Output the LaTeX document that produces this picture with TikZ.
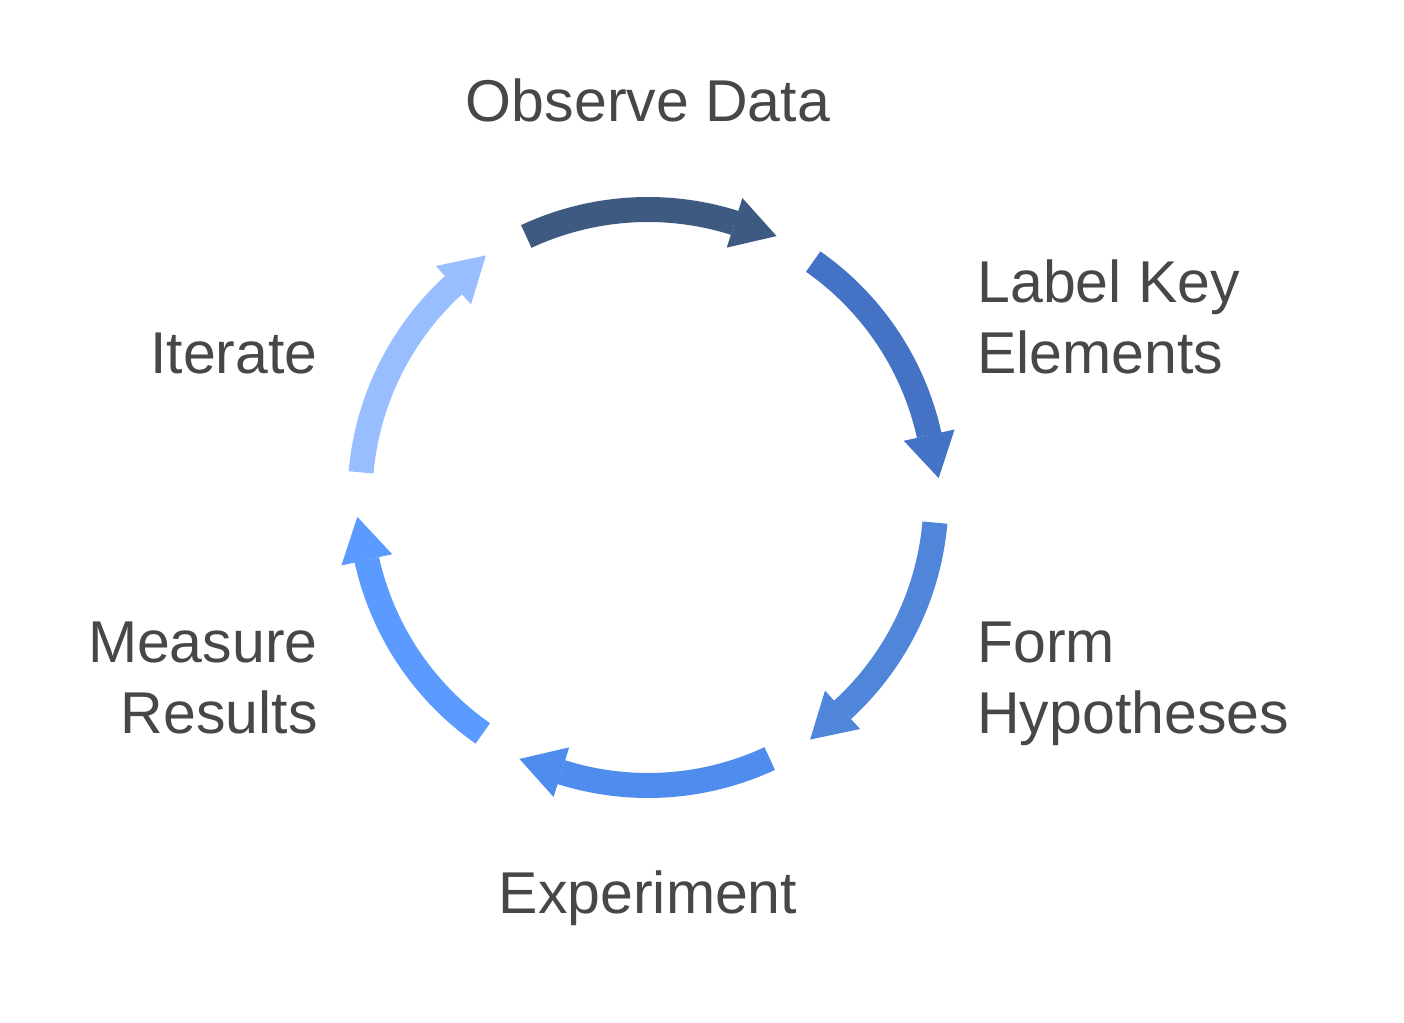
\documentclass[tikz,border=0pt]{standalone}
\usepackage{fontspec}
\setmainfont{Liberation Sans}
\usepackage{xcolor}
\usetikzlibrary{arrows.meta}

\definecolor{obsblue}{HTML}{3E5A80}
\definecolor{keyblue}{HTML}{4472C4}
\definecolor{formblue}{HTML}{5086DA}
\definecolor{expblue}{HTML}{4E8DEE}
\definecolor{measblue}{HTML}{5B9BFF}
\definecolor{iterblue}{HTML}{99BEFF}
\definecolor{textgray}{HTML}{474747}

\begin{document}
\begin{tikzpicture}[x=0.5pt, y=0.5pt]
    \tikzstyle{stagetext} = [inner sep=0pt, text=textgray, font=\fontsize{29.5pt}{35.65pt}\selectfont]
    \tikzstyle{cyclearc} = [line width=12.5pt, -{Triangle[length=22pt, width=26pt, line width=0pt]}]

    \useasboundingbox (-648,-525.5) rectangle (756,497.5);

    % start points of the six arcs
    \coordinate (hub) at (0,0);
    \coordinate (sObs) at (115:288);
    \coordinate (sKey) at (55:288);
    \coordinate (sForm) at (-5:288);
    \coordinate (sExp) at (-65:288);
    \coordinate (sMeas) at (-125:288);
    \coordinate (sIter) at (175:288);

    \draw [cyclearc, obsblue] (sObs) arc[start angle=115, end angle=72.5, radius=288] -- ++(-17.5:44);
    \draw [cyclearc, keyblue] (sKey) arc[start angle=55, end angle=12.5, radius=288] -- ++(-77.5:44);
    \draw [cyclearc, formblue] (sForm) arc[start angle=-5, end angle=-47.5, radius=288] -- ++(-137.5:44);
    \draw [cyclearc, expblue] (sExp) arc[start angle=-65, end angle=-107.5, radius=288] -- ++(162.5:44);
    \draw [cyclearc, measblue] (sMeas) arc[start angle=-125, end angle=-167.5, radius=288] -- ++(102.5:44);
    \draw [cyclearc, iterblue] (sIter) arc[start angle=175, end angle=132.5, radius=288] -- ++(42.5:44);

    % stage labels (base = last line)
    \node (observe) [stagetext, anchor=base] at (0,375.8) {Observe Data};
    \node (labelkey) [stagetext, anchor=base west, align=left] at (329,123.5) {Label Key\\Elements};
    \node (form) [stagetext, anchor=base west, align=left] at (329,-235.8) {Form\\Hypotheses};
    \node (experiment) [stagetext, anchor=base] at (0,-415.8) {Experiment};
    \node (measure) [stagetext, anchor=base east, align=right] at (-330,-235.8) {Measure\\Results};
    \node (iterate) [stagetext, anchor=base east] at (-330,123.5) {Iterate};
\end{tikzpicture}
\end{document}
